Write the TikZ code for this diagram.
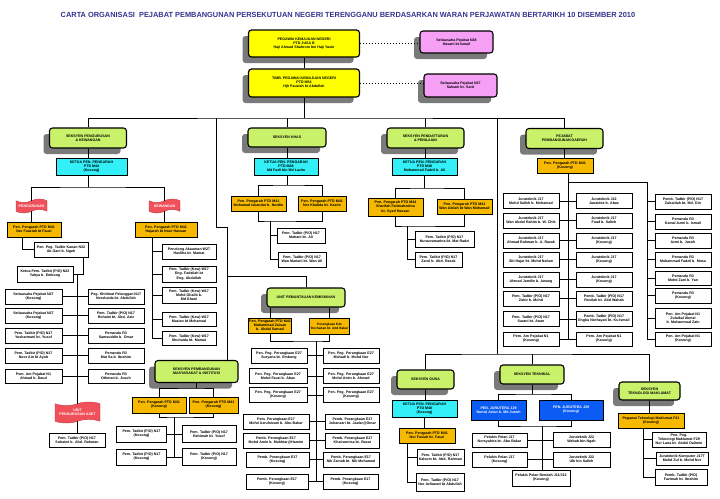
\documentclass[tikz,border=0pt]{standalone}
\usepackage{fontspec}
\setmainfont{Liberation Sans}
\usetikzlibrary{positioning, shapes.symbols, shadows}
\definecolor{TitleBlue}{HTML}{33338F}
\definecolor{HeadYellow}{HTML}{FFFF00}
\definecolor{SeksyenGreen}{HTML}{C9F26A}
\definecolor{SuPink}{HTML}{F5A0F5}
\definecolor{KetuaCyan}{HTML}{33F0F8}
\definecolor{PengarahOrange}{HTML}{F7B900}
\definecolor{JuruteraBlue}{HTML}{0A5CF5}
\definecolor{FlagRed}{HTML}{F0505A}
\definecolor{ShadowGrey}{HTML}{7A7A7A}

\begin{document}
\begin{tikzpicture}[x=1pt,y=-1pt,
    every node/.style={font=\bfseries\fontsize{3.6}{4.1}\selectfont, align=center, inner sep=0.5pt},
    link/.style={line width=0.9pt},
    dotlink/.style={line width=1pt, dotted},
    sdw/.style={drop shadow={shadow xshift=-6pt, shadow yshift=-6pt, fill=ShadowGrey, opacity=1}},
    headbox/.style={draw, line width=1.2pt, rounded corners=3pt, fill=HeadYellow, minimum width=111, minimum height=27, sdw},
    pinkbox/.style={draw, line width=1.1pt, rounded corners=3pt, fill=SuPink, minimum width=73, minimum height=22, sdw},
    seksi/.style={draw, line width=1.1pt, rounded corners=3pt, fill=SeksyenGreen, minimum width=77, minimum height=20, sdw},
    ketuabox/.style={draw, line width=0.8pt, fill=KetuaCyan, minimum width=65, minimum height=17},
    pengarah/.style={draw, line width=0.9pt, fill=PengarahOrange, minimum width=55, minimum height=15},
    staff/.style={draw, line width=0.9pt, fill=white, minimum width=56, minimum height=15},
    jurubox/.style={draw, line width=0.9pt, fill=JuruteraBlue, text=white, minimum width=56, minimum height=20},
    flagbox/.style={shape=tape, tape bend height=3.5pt, draw=FlagRed!80!black, line width=0.4pt, fill=FlagRed, text=white, minimum width=31, minimum height=14}
  ]
  \useasboundingbox (0,0) rectangle (720,498);

  % Title
  \node[font=\bfseries\fontsize{7.4}{9}\selectfont, text=TitleBlue] (title) at (348,15)
    {CARTA ORGANISASI\ \ PEJABAT PEMBANGUNAN PERSEKUTUAN NEGERI TERENGGANU BERDASARKAN WARAN PERJAWATAN BERTARIKH 10 DISEMBER 2010};

  % Top management
  \node[headbox] (pkn) at (304,43.5) {PEGAWAI KEMAJUAN NEGERI\\PTD JUSA B\\Haji Ahmad Shahrom bin Haji Yasin};
  \node[headbox, minimum height=28] (tpkn) at (304,83) {TIMB. PEGAWAI KEMAJUAN NEGERI\\PTD M54\\Hjh Pauziah bt Abdullah};
  \node[pinkbox] (su1) at (456.5,42) {Setiausaha Pejabat N28\\Hasani bt Ismail};
  \node[pinkbox, minimum height=23] (su2) at (460.5,85.5) {Setiausaha Pejabat N27\\Saleani bt. Sarit};
  \draw[link] (pkn) -- (tpkn);
  \draw[dotlink] (pkn.east) -- (pkn.east -| su1.west);
  \draw[dotlink] (tpkn.east) -- (tpkn.east -| su2.west);

  % Sections
  \coordinate (bus) at (304,118);
  \node[seksi] (seksUrus) at (88,138) {SEKSYEN PENGURUSAN\\\& KEWANGAN};
  \node[seksi, minimum width=78, minimum height=19] (seksKhas) at (287,137.5) {SEKSYEN KHAS};
  \node[seksi] (seksDaftar) at (425.5,138) {SEKSYEN PENDAFTARAN\\\& PENILAIAN};
  \node[seksi] (pejDaerah) at (564.5,138.5) {PEJABAT\\PEMBANGUNAN DAERAH};
  \draw[link] (tpkn) -- (bus);
  \draw[link] (seksUrus.north) |- (bus) -| (pejDaerah.north);
  \draw[link] (seksKhas.north) -- (seksKhas.north |- bus);
  \draw[link] (seksDaftar.north) -- (seksDaftar.north |- bus);

  \coordinate (kemA) at (216,227);
  \coordinate (kemB) at (227,227);
  \coordinate (kemC) at (227,276);
  \coordinate (guna) at (497,354);
  \node[seksi, minimum width=83, minimum height=22] (seksMasy) at (196.5,371.5) {SEKSYEN PEMBANGUNAN\\MASYARAKAT \& INSTITUSI};
  \node[seksi, minimum width=78, minimum height=19] (unitMiskin) at (306,297.5) {UNIT PEMANTAUAN KEMISKINAN};
  \node[seksi, minimum width=57, minimum height=19] (seksGuna) at (425.5,379.5) {SEKSYEN GUNA};
  \node[seksi, minimum width=64, minimum height=19] (seksTeknik) at (532,374.5) {SEKSYEN TEKNIKAL};
  \node[seksi, minimum width=61, minimum height=18] (seksTM) at (649.5,391) {SEKSYEN\\TEKNOLOGI MAKLUMAT};
  \draw[link] (bus -| kemA) -- (kemA) -- (kemB) -- (kemB |- seksMasy.north);
  \draw[link] (kemC) -| (unitMiskin.north);
  \draw[link] (bus -| guna) -- (guna);
  \draw[link] (seksGuna.north) |- (guna) -| (seksTM.north);
  \draw[link] (seksTeknik.north) -- (seksTeknik.north |- guna);

  % Seksyen Pengurusan & Kewangan
  \node[ketuabox, minimum width=71] (ketua1) at (91.5,166.5) {KETUA PEN. PENGARAH\\PTD M44\\(Kosong)};
  \draw[link] (seksUrus.south) -- (seksUrus.south |- ketua1.north);
  \coordinate (b1) at (88,187);
  \node[flagbox] (flagUrus) at (31.5,206) {PENGURUSAN};
  \node[flagbox] (flagKew) at (164.5,206) {KEWANGAN};
  \draw[link] (ketua1.south -| b1) -- (b1);
  \draw[link] (flagUrus.north) |- (b1) -| (flagKew.north);

  \node[pengarah, minimum width=54] (ppUrus) at (34,229.5) {Pen. Pengarah PTD M41\\Nor Fauziah bt Fauzi};
  \node[staff, minimum width=54] (ptk) at (61,249.5) {Pen. Peg. Tadbir Kanan N32\\Ab Gani b. Ngah};
  \node[staff, minimum height=16] (ketuaTadbir) at (45,274) {Ketua Pem. Tadbir (P/O) N22\\Yahya b. Embong};
  \draw[link] (flagUrus.south) -- (flagUrus.south |- ppUrus.north);
  \draw[link] ([xshift=-12pt]ppUrus.south) |- (ptk.west);
  \draw[link] ([xshift=22pt]ptk.south) |- (ketuaTadbir.east);

  \node[staff, minimum width=57] (setia1) at (33.5,296.5) {Setiausaha Pejabat N27\\(Kosong)};
  \node[staff, minimum width=57] (setia2) at (33.5,315.5) {Setiausaha Pejabat N27\\(Kosong)};
  \node[staff, minimum width=57] (tadbirY) at (33.5,335.5) {Pem. Tadbir (P/O) N17\\Yusharmani bt. Yusof};
  \node[staff, minimum width=57] (tadbirN) at (33.5,355.5) {Pem. Tadbir (P/O) N17\\Noor Ain bt Ayob};
  \node[staff, minimum width=57, minimum height=14] (amAhmad) at (33.5,376.5) {Pem. Am Pejabat N1\\Ahmad b. Daud};
  \node[staff] (khidmat) at (116,296.5) {Peg. Khidmat Pelanggan N17\\Norshaida bt. Abdullah};
  \node[staff] (tadbirR) at (116,315.5) {Pem. Tadbir (P/O) N17\\Rohaini bt. Abd. Aziz};
  \node[staff] (pemandu1) at (116,335.5) {Pemandu R3\\Samsuddin b. Omar};
  \node[staff] (pemandu2) at (116,355.5) {Pemandu R3\\Mat Sa b. Ibrahim};
  \node[staff, minimum height=14] (pemandu3) at (116,376.5) {Pemandu R3\\Othman b. Jusoh};
  \node[flagbox, minimum width=45, minimum height=21] (flagAset) at (77.5,412.5) {UNIT\\PENGURUSAN ASET};
  \node[staff, minimum height=14] (tadbirAset) at (77,440) {Pem. Tadbir (P/O) N17\\Suhaimi b. Abd. Rahman};
  \coordinate (sp1) at (77,274);
  \draw[link] (sp1) -- (sp1 |- flagAset.north);
  \foreach \a/\b in {setia1/khidmat, setia2/tadbirR, tadbirY/pemandu1, tadbirN/pemandu2, amAhmad/pemandu3}
    \draw[link] (\a.east) -- (\b.west);
  \draw[link] (flagAset.south) -- (flagAset.south |- tadbirAset.north);

  \node[pengarah, minimum width=62] (ppKew) at (166,229.5) {Pen. Pengarah PTD M41\\Hajarah bt Noor Hassan};
  \draw[link] (flagKew.south) -- (flagKew.south |- ppKew.north);
  \node[staff, minimum width=54] (kew1) at (189,251.5) {Penolong Akauntan W27\\Hasliha bt. Mamat};
  \node[staff, minimum width=54, minimum height=16] (kew2) at (189,274) {Pem. Tadbir (Kew) W17\\Eng. Fadzilah bt\\Eng. Abdullah};
  \node[staff, minimum width=54, minimum height=16] (kew3) at (189,295) {Pem. Tadbir (Kew) W17\\Mohd Ghalib b.\\Md Ghani};
  \node[staff, minimum width=54, minimum height=14] (kew4) at (189,319.5) {Pem. Tadbir (Kew) W17\\Mazian bt Mohamad};
  \node[staff, minimum width=54, minimum height=14] (kew5) at (189,338) {Pem. Tadbir (Kew) W17\\Shuhaida bt. Mamat};
  \coordinate (kwS) at (152,237);
  \draw[link] (kwS) |- (kew5.west);
  \foreach \n in {kew1,kew2,kew3,kew4}
    \draw[link] (\n.west) -- (\n.west -| kwS);

  % Seksyen Khas
  \node[ketuabox, minimum width=64] (ketua2) at (286,166.5) {KETUA PEN. PENGARAH\\PTD M48\\Md Fazli bin Md Lazim};
  \draw[link] (seksKhas.south) -- (seksKhas.south |- ketua2.north);
  \node[pengarah] (pp2a) at (258.5,203.5) {Pen. Pengarah PTD M41\\Mohamad Iskandar b. Nordin};
  \node[pengarah, minimum width=48] (pp2b) at (322,203.5) {Pen. Pengarah PTD M41\\Nor Khalida bt. Kasim};
  \coordinate (k1) at (287,185);
  \coordinate (k2) at (270,221);
  \draw[link] (ketua2.south -| k1) -- (k1);
  \draw[link] (pp2a.north) |- (k1) -| (pp2b.north);
  \draw[link] (pp2a.south) |- (k2) -| (pp2b.south);
  \node[staff, minimum width=48] (tadbirM) at (301,235.5) {Pem. Tadbir (P/O) N17\\Mahani bt. Ali};
  \node[staff, minimum width=48] (tadbirW) at (302,259.5) {Pem. Tadbir (P/O) N17\\Wan Mariani bt. Wan Ali};
  \draw[link] (k2) |- (tadbirW.west);
  \draw[link] (tadbirM.west) -- (tadbirM.west -| k2);

  % Unit Pemantauan Kemiskinan
  \node[pengarah, minimum width=43] (ppMiskin) at (270,325.5) {Pen. Pengarah PTD M41\\Muhammad Zaisan\\b. Abdul Samad};
  \node[pengarah, minimum width=40, minimum height=16, font=\bfseries\fontsize{3.2}{3.8}\selectfont] (perangkaan) at (329.5,326) {Perangkaan E41\\Rochaban bt. Abd Bakar};
  \draw[link] (ppMiskin.north) -- (ppMiskin.north |- unitMiskin.south);
  \draw[link] (perangkaan.north) -- (perangkaan.north |- unitMiskin.south);
  \node[staff] (pl1) at (279,355.5) {Pen. Peg. Perangkaan E27\\Suryana bt. Embong};
  \node[staff, minimum width=58] (pl2) at (278,376) {Pen. Peg. Perangkaan E27\\Mohd Fauzi b. Abas};
  \node[staff, minimum width=58] (pl3) at (278,395) {Pen. Peg. Perangkaan E27\\(Kosong)};
  \node[staff, minimum width=66] (pl4) at (276,421.5) {Pem. Perangkaan E17\\Mohd Azrulnizam b. Abu Bakar};
  \node[staff, minimum width=66] (pl5) at (276,440.5) {Pemb. Perangkaan E17\\Mohd Amin b. Mukhtar@Hamim};
  \node[staff, minimum width=63] (pl6) at (277.5,459.5) {Pemb. Perangkaan E17\\(Kosong)};
  \node[staff, minimum width=62] (pl7) at (277,481.5) {Pemb. Perangkaan E17\\(Kosong)};
  \node[staff] (pr1) at (351,355.5) {Pen. Peg. Perangkaan E27\\Mohadi b. Mohd Nor};
  \node[staff] (pr2) at (351,376) {Pen. Peg. Perangkaan E27\\Mohd Amin b. Ahmad};
  \node[staff] (pr3) at (351,395) {Pen. Peg. Perangkaan E27\\(Kosong)};
  \node[staff, minimum width=54] (pr4) at (352.5,421.5) {Pemb. Perangkaan E17\\Johanazri bt. Jaafar@Omar};
  \node[staff, minimum width=54] (pr5) at (352.5,440.5) {Pemb. Perangkaan E17\\Khairunnisa bt. Basar};
  \node[staff] (pr6) at (351,459.5) {Pemb. Perangkaan E17\\Nik Zainab bt. Nik Mohamad};
  \node[staff, minimum width=55] (pr7) at (350.5,481.5) {Pemb. Perangkaan E17\\(Kosong)};
  \coordinate (m1) at (316,341);
  \draw[link] (ppMiskin.south) |- (m1) -| (perangkaan.south);
  \draw[link] (m1) -- (m1 |- pl7.east);
  \foreach \i in {1,...,7}
    \draw[link] (pl\i.east) -- (pr\i.west);

  % Seksyen Pembangunan Masyarakat
  \node[pengarah, minimum width=54, minimum height=16] (ppMasy1) at (159,405) {Pen. Pengarah PTD M41\\(Kosong)};
  \node[pengarah, minimum width=49, minimum height=16] (ppMasy2) at (213.5,405) {Pen. Pengarah PTD M41\\(Kosong)};
  \coordinate (ms1) at (196.5,388);
  \coordinate (ms2) at (174,417);
  \draw[link] (seksMasy.south) -- (ms1);
  \draw[link] (ppMasy1.north) |- (ms1) -| (ppMasy2.north);
  \draw[link] (ppMasy1.south) |- (ms2) -| (ppMasy2.south);
  \node[staff, minimum width=50, minimum height=16] (masyL1) at (141.5,434) {Pem. Tadbir (P/O) N17\\(Kosong)};
  \node[staff, minimum width=50, minimum height=16] (masyL2) at (141.5,457) {Pem. Tadbir (P/O) N17\\(Kosong)};
  \node[staff, minimum width=54, minimum height=17] (masyR1) at (209,434) {Pem. Tadbir (P/O) N17\\Rahimah bt. Yusof};
  \node[staff, minimum width=54, minimum height=17] (masyR2) at (209,457) {Pem. Tadbir (P/O) N17\\(Kosong)};
  \draw[link] (ms2) -- (ms2 |- masyL2.east);
  \draw[link] (masyL1.east) -- (masyR1.west);
  \draw[link] (masyL2.east) -- (masyR2.west);

  % Seksyen Pendaftaran & Penilaian
  \node[ketuabox] (ketua3) at (424.5,166.5) {KETUA PEN. PENGARAH\\PTD M48\\Muhammad Fadzil b. Ali};
  \draw[link] (seksDaftar.south) -- (seksDaftar.south |- ketua3.north);
  \node[pengarah, minimum height=18] (ppD1) at (395.5,207) {Pen. Pengarah PTD M44\\Sharifah Fatimahzuhra\\bt. Syed Hassan};
  \node[pengarah] (ppD2) at (464.5,206.5) {Pen. Pengarah PTD M41\\Wan Abilah bt Wan Mohamad};
  \coordinate (d1) at (424.5,188);
  \coordinate (d2) at (407,226);
  \draw[link] (ketua3.south) -- (d1);
  \draw[link] (ppD1.north) |- (d1) -| (ppD2.north);
  \draw[link] (ppD1.south) |- (d2) -| (ppD2.south);
  \node[staff, minimum width=59, minimum height=16] (tadbirNz) at (444.5,239) {Pem. Tadbir (P/O) N17\\Nuruzzamarina bt. Mat Radzi};
  \node[staff, minimum width=47] (tadbirZ) at (438.5,259.5) {Pem. Tadbir (P/O) N17\\Zarol b. Abd. Razak};
  \draw[link] (d2) |- (tadbirZ.west);
  \draw[link] (tadbirNz.west) -- (tadbirNz.west -| d2);

  % Pejabat Pembangunan Daerah
  \node[pengarah, minimum width=56] (ppDaerah) at (565,165.5) {Pen. Pengarah PTD M41\\(Kosong)};
  \draw[link] (pejDaerah.south) -- (pejDaerah.south |- ppDaerah.north);
  \node[staff] (dl1) at (531,201) {Juruteknik J17\\Mohd Salleh b. Mohamad};
  \node[staff] (dl2) at (531,220.5) {Juruteknik J17\\Wan Abdul Rahim b. W. Chik};
  \node[staff] (dl3) at (531,240.5) {Juruteknik J17\\Ahmad Rahman b. A. Razak};
  \node[staff] (dl4) at (531,259.5) {Juruteknik J17\\Siti Hajar bt. Mohd Nahan};
  \node[staff] (dl5) at (531,279.5) {Juruteknik J17\\Ahmad Jamilie b. Awang};
  \node[staff] (dl6) at (531,298.5) {Pem. Tadbir (P/O) N17\\Zubir b. Mohd};
  \node[staff] (dl7) at (531,319) {Pem. Tadbir (P/O) N17\\Sarani bt. Anan};
  \node[staff, minimum height=14] (dl8) at (531,339) {Pem. Am Pejabat N1\\(Kosong)};
  \node[staff] (dm1) at (604,201) {Juruteknik J22\\Junaidee b. Abas};
  \node[staff] (dm2) at (604,220.5) {Juruteknik J17\\Fuad b. Salleh};
  \node[staff] (dm3) at (604,240.5) {Juruteknik J17\\(Kosong)};
  \node[staff] (dm4) at (604,259.5) {Juruteknik J17\\(Kosong)};
  \node[staff] (dm5) at (604,279.5) {Juruteknik J17\\(Kosong)};
  \node[staff] (dm6) at (604,298.5) {Pemb. Tadbir (P/O) N17\\Rosilah bt. Abd Wahab};
  \node[staff] (dm7) at (604,319) {Pemb. Tadbir (P/O) N17\\Engku Norhayati bt. Ku Ismail};
  \node[staff, minimum height=14] (dm8) at (604,339) {Pem. Am Pejabat N1\\(Kosong)};
  \node[staff] (dr1) at (683,201.5) {Pemb. Tadbir (P/O) N17\\Zubaidah bt. Md. Din};
  \node[staff] (dr2) at (683,221.5) {Pemandu R3\\Kamal Azmi b. Ismail};
  \node[staff] (dr3) at (683,240.5) {Pemandu R3\\Azmi b. Jusoh};
  \node[staff] (dr4) at (683,259.5) {Pemandu R3\\Muhammad Fadzil b. Musa};
  \node[staff, minimum height=14] (dr5) at (683,278) {Pemandu R3\\Mohd Zani b. Yan};
  \node[staff] (dr6) at (683,295.5) {Pemandu R3\\(Kosong)};
  \node[staff, minimum height=20] (dr7) at (683,318) {Pen. Am Pejabat N1\\Zulaikal Akmal\\b. Muhammad Zain};
  \node[staff, minimum height=14] (dr8) at (683,339) {Pen. Am Pejabat N1\\(Kosong)};
  \coordinate (dsp) at (568,173);
  \coordinate (drs) at (647,182);
  \draw[link] (dsp) -- (dsp |- dl8.east);
  \draw[link] (dsp |- drs) -- (drs) |- (dr8.west);
  \foreach \i in {1,...,8}
    \draw[link] (dl\i.east) -- (dm\i.west);
  \foreach \i in {1,...,7}
    \draw[link] (dr\i.west) -- (dr\i.west -| drs);

  % Seksyen Guna
  \node[ketuabox] (ketua4) at (424.5,408.5) {KETUA PEN. PENGARAH\\PTD M48\\(Kosong)};
  \node[pengarah, minimum width=56] (ppGuna) at (427,435.5) {Pen. Pengarah PTD M41\\Nor Fasiah bt. Fauzi};
  \draw[link] (seksGuna.south) -- (seksGuna.south |- ketua4.north);
  \draw[link] (ketua4.south) -- (ketua4.south |- ppGuna.north);
  \node[staff, minimum width=47, minimum height=16] (gunaK) at (440.5,457) {Pem. Tadbir (P/O) N17\\Kalsom bt. Abd. Rahman};
  \node[staff, minimum width=48, minimum height=18] (gunaN) at (440,482.5) {Pem. Tadbir (P/O) N17\\Nor Azliawati bt Abdullah};
  \coordinate (gs) at (407,443);
  \draw[link] (gs) |- (gunaN.west);
  \draw[link] (gunaK.west) -- (gunaK.west -| gs);

  % Seksyen Teknikal
  \node[jurubox, minimum width=55] (jur1) at (498.5,410) {PEN. JURUTERA J29\\Norrul Azlan b. Md Junoh};
  \node[jurubox, minimum width=64] (jur2) at (571,410) {PEN. JURUTERA J29\\(Kosong)};
  \coordinate (t1) at (532,394);
  \coordinate (t2) at (542,426);
  \draw[link] (seksTeknik.south) -- (t1);
  \draw[link] (jur1.north) |- (t1) -| (jur2.north);
  \draw[link] (jur1.south) |- (t2) -| (jur2.south);
  \node[staff, minimum width=55, minimum height=14] (pelukis1) at (499.5,440) {Pelukis Pelan J17\\Norsyahira bt. Abu Bakar};
  \node[staff, minimum width=55] (pelukis2) at (499.5,459.5) {Pelukis Pelan J17\\(Kosong)};
  \node[staff, minimum width=57] (jtk1) at (581.5,440) {Juruteknik J22\\Wahab bin Ngah};
  \node[staff, minimum width=57] (jtk2) at (581.5,459.5) {Juruteknik J22\\Ubi bin Salleh};
  \node[staff, minimum width=58, minimum height=16] (pelukisR) at (541,478) {Pelukis Pelan Rendah J11/J12\\(Kosong)};
  \draw[link] (t2) -- (t2 |- pelukisR.north);
  \draw[link] (pelukis1.east) -- (jtk1.west);
  \draw[link] (pelukis2.east) -- (jtk2.west);

  % Seksyen Teknologi Maklumat
  \node[pengarah, minimum width=66] (ppTM) at (651,420.5) {Pegawai Teknologi Maklumat F41\\(Kosong)};
  \draw[link] (seksTM.south) -- (seksTM.south |- ppTM.north);
  \node[staff, minimum width=54] (tm1) at (679,439.5) {Pen. Peg.\\Teknologi Maklumat F29\\Nor Lana bt. Abdul Dalimin};
  \node[staff, minimum width=52, minimum height=13] (tm2) at (682,458.5) {Juruteknik Komputer J17T\\Mohd Zul b. Mohd Nor};
  \node[staff, minimum width=52, minimum height=16] (tm3) at (681,477) {Pemb. Tadbir (P/O)\\Fazimah bt. Ibrahim};
  \coordinate (ts) at (643,428);
  \draw[link] (ts) |- (tm3.west);
  \draw[link] (tm1.west) -- (tm1.west -| ts);
  \draw[link] (tm2.west) -- (tm2.west -| ts);
\end{tikzpicture}
\end{document}
